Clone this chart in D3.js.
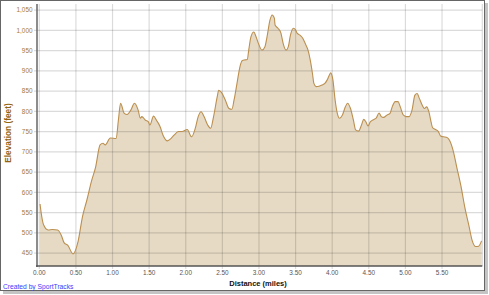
<!DOCTYPE html>
<html>
<head>
<meta charset="utf-8">
<script src="https://cdn.jsdelivr.net/npm/d3@7"></script>
<style>
  body { margin: 0; background: #fff; }
  svg { display: block; }
</style>
</head>
<body>
<svg id="viz" width="489" height="295"></svg>
<script>
// distance (miles) and elevation (feet)
let distances = [0.01, 0.03, 0.06, 0.12, 0.18, 0.25, 0.30, 0.34, 0.39, 0.46,
  0.53, 0.59, 0.65, 0.71, 0.77, 0.83, 0.87, 0.90, 0.97, 1.05,
  1.08, 1.11, 1.16, 1.20, 1.25, 1.30, 1.35, 1.38, 1.40, 1.45,
  1.49, 1.51, 1.56, 1.60, 1.65, 1.69, 1.75, 1.80, 1.84, 1.90,
  1.95, 2.02, 2.08, 2.13, 2.17, 2.21, 2.25, 2.30, 2.34, 2.38,
  2.43, 2.45, 2.49, 2.54, 2.59, 2.63, 2.66, 2.70, 2.74, 2.77,
  2.81, 2.84, 2.86, 2.89, 2.93, 2.96, 3.00, 3.04, 3.08, 3.11,
  3.15, 3.18, 3.21, 3.22, 3.26, 3.30, 3.33, 3.37, 3.40, 3.43,
  3.47, 3.50, 3.52, 3.56, 3.60, 3.63, 3.67, 3.70, 3.73, 3.75,
  3.78, 3.82, 3.86, 3.90, 3.93, 3.96, 3.98, 4.01, 4.04, 4.07,
  4.10, 4.14, 4.18, 4.21, 4.25, 4.29, 4.32, 4.36, 4.40, 4.43,
  4.46, 4.49, 4.52, 4.57, 4.60, 4.64, 4.67, 4.70, 4.75, 4.79,
  4.82, 4.86, 4.90, 4.93, 4.97, 5.01, 5.05, 5.09, 5.13, 5.16,
  5.19, 5.23, 5.26, 5.29, 5.32, 5.35, 5.37, 5.41, 5.45, 5.48,
  5.52, 5.56, 5.60, 5.65, 5.70, 5.76, 5.81, 5.87, 5.91, 5.96,
  6.00, 6.04];
let elevations = [571, 544, 519, 507, 508, 507, 494, 475, 469, 448,
  479, 540, 581, 626, 663, 717, 721, 717, 734, 733,
  778, 820, 795, 792, 803, 820, 803, 783, 787, 778,
  774, 766, 788, 778, 762, 741, 727, 733, 741, 750,
  750, 755, 737, 758, 787, 799, 787, 766, 758, 787,
  836, 852, 846, 828, 807, 805, 828, 869, 910, 925,
  927, 928, 951, 984, 996, 984, 964, 951, 959, 984,
  1025, 1038, 1030, 1013, 1005, 993, 968, 951, 959, 988,
  1005, 1001, 993, 988, 980, 968, 951, 927, 894, 869,
  861, 862, 865, 869, 877, 889, 895, 877, 828, 795,
  783, 791, 811, 820, 807, 778, 754, 751, 766, 780,
  774, 764, 774, 780, 783, 796, 787, 785, 791, 795,
  811, 824, 824, 811, 791, 787, 787, 803, 840, 844,
  832, 815, 807, 811, 799, 774, 760, 755, 750, 739,
  737, 736, 729, 704, 663, 614, 564, 515, 482, 466,
  467, 480];

let xTicks = [0, 0.5, 1, 1.5, 2, 2.5, 3, 3.5, 4, 4.5, 5, 5.5];
let yTicks = [450, 500, 550, 600, 650, 700, 750, 800, 850, 900, 950, 1000, 1050];

let svg = d3.select('#viz');
let plotLeft = 39.3, plotRight = 482.3, plotTop = 4, plotBottom = 266;

let x = d3.scaleLinear().domain([0, 6.05]).range([plotLeft, plotRight]);
let y = d3.scaleLinear().domain([418, 1065]).range([plotBottom, plotTop]);

let data = distances.map((d, i) => ({d: d, e: elevations[i]}));

// frame with shadow
svg.append('rect').attr('x', 3).attr('y', 3).attr('width', 485).attr('height', 291)
	.attr('fill', '#c4c4c4');
svg.append('rect').attr('x', 0.5).attr('y', 0.5).attr('width', 484).attr('height', 290)
	.attr('fill', '#fff').attr('stroke', '#666');

// area + line
let area = d3.area().x(p => x(p.d)).y0(plotBottom).y1(p => y(p.e)).curve(d3.curveMonotoneX);
let line = d3.line().x(p => x(p.d)).y(p => y(p.e)).curve(d3.curveMonotoneX);

svg.append('path').datum(data).attr('d', area).attr('fill', '#e6dac4');

// grid drawn over the fill
let grid = svg.append('g').attr('stroke', 'rgba(0,0,0,0.14)').attr('stroke-width', 1.2);
grid.selectAll('.hg').data(yTicks).enter().append('line')
	.attr('x1', 34).attr('x2', plotRight).attr('y1', d => y(d)).attr('y2', d => y(d));
grid.selectAll('.vg').data(xTicks).enter().append('line')
	.attr('x1', d => x(d)).attr('x2', d => x(d)).attr('y1', plotTop).attr('y2', plotBottom + 3);
grid.append('line').attr('x1', plotRight).attr('x2', plotRight).attr('y1', plotTop).attr('y2', plotBottom);

svg.append('path').datum(data).attr('d', line)
	.attr('fill', 'none').attr('stroke', '#bb8f50').attr('stroke-width', 1.1);

// axis lines
svg.append('line').attr('x1', 37).attr('x2', 37).attr('y1', plotTop).attr('y2', plotBottom + 1)
	.attr('stroke', '#666').attr('stroke-width', 1.5);
svg.append('line').attr('x1', 36).attr('x2', plotRight).attr('y1', plotBottom).attr('y2', plotBottom)
	.attr('stroke', '#555').attr('stroke-width', 1.5);

// tick labels
svg.append('g').selectAll('text').data(yTicks).enter().append('text')
	.attr('x', 32.5).attr('y', d => y(d) + 2.3)
	.attr('text-anchor', 'end')
	.attr('font-family', 'Liberation Sans, Arial, sans-serif')
	.attr('font-size', 6.4).attr('fill', '#a47a34')
	.text(d => d3.format(',')(d));

svg.append('g').selectAll('text').data(xTicks).enter().append('text')
	.attr('x', d => x(d)).attr('y', 274.5)
	.attr('text-anchor', 'middle')
	.attr('font-family', 'Liberation Sans, Arial, sans-serif')
	.attr('font-size', 6.4).attr('fill', '#555')
	.text(d => d.toFixed(2));

// axis titles
svg.append('text').attr('transform', 'translate(11,133) rotate(-90)')
	.attr('text-anchor', 'middle')
	.attr('font-family', 'Liberation Sans, Arial, sans-serif')
	.attr('font-size', 8.3).attr('font-weight', 'bold').attr('fill', '#94620e')
	.text('Elevation (feet)');

svg.append('text').attr('x', 258).attr('y', 286)
	.attr('text-anchor', 'middle')
	.attr('font-family', 'Liberation Sans, Arial, sans-serif')
	.attr('font-size', 7.5).attr('font-weight', 'bold').attr('fill', '#111')
	.text('Distance (miles)');

svg.append('text').attr('x', 3).attr('y', 288.5)
	.attr('font-family', 'Liberation Sans, Arial, sans-serif')
	.attr('font-size', 6.7).attr('fill', '#3a3aff')
	.text('Created by SportTracks');
</script>
</body>
</html>
